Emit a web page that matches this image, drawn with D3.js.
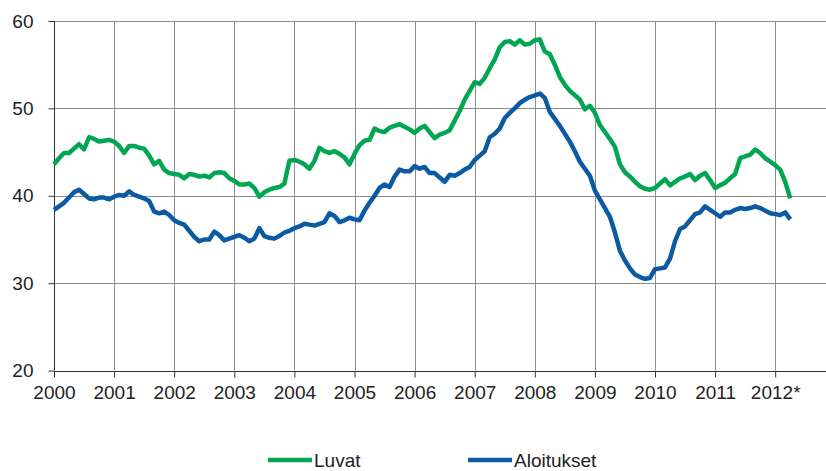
<!DOCTYPE html>
<html>
<head>
<meta charset="utf-8">
<script src="https://cdn.jsdelivr.net/npm/d3@7"></script>
<style>
  html, body { margin: 0; padding: 0; background: #fff; }
  svg { display: block; }
  text { font-family: "Liberation Sans", Arial, sans-serif; fill: #222; }
</style>
</head>
<body>
<svg id="chart" width="826" height="471"></svg>
<script>
// Monthly series, Jan 2000 – Apr 2012
const yearLabels = ["2000","2001","2002","2003","2004","2005","2006","2007","2008","2009","2010","2011","2012*"];
const yTicks = [20, 30, 40, 50, 60];
const seriesNames = ["Luvat", "Aloitukset"];

const luvat = [
  43.6, 44.3, 44.9, 44.9, 45.4, 45.9, 45.3, 46.7, 46.5, 46.2,
  46.3, 46.4, 46.2, 45.7, 44.9, 45.7, 45.7, 45.5, 45.4, 44.6,
  43.6, 44.0, 43.0, 42.6, 42.5, 42.4, 42.0, 42.5, 42.4, 42.2,
  42.3, 42.1, 42.6, 42.7, 42.6, 42.0, 41.7, 41.3, 41.3, 41.4,
  40.9, 39.9, 40.4, 40.7, 40.9, 41.0, 41.4, 44.0, 44.1, 43.9,
  43.6, 43.1, 44.0, 45.5, 45.1, 44.9, 45.1, 44.8, 44.4, 43.6,
  44.8, 45.8, 46.3, 46.4, 47.7, 47.4, 47.3, 47.8, 48.0, 48.2,
  47.9, 47.6, 47.2, 47.7, 48.0, 47.3, 46.6, 47.0, 47.2, 47.5,
  48.6, 49.7, 51.0, 52.0, 53.0, 52.8, 53.5, 54.6, 55.6, 57.0,
  57.6, 57.7, 57.3, 57.8, 57.3, 57.4, 57.8, 57.9, 56.5, 56.2,
  55.0, 53.6, 52.7, 52.0, 51.5, 51.0, 49.9, 50.3, 49.5, 48.1,
  47.3, 46.5, 45.6, 43.6, 42.7, 42.2, 41.6, 41.1, 40.8, 40.7,
  40.9, 41.4, 41.9, 41.2, 41.6, 42.0, 42.2, 42.5, 41.8, 42.3,
  42.6, 41.8, 40.9, 41.2, 41.5, 42.0, 42.5, 44.3, 44.5, 44.7,
  45.3, 44.9, 44.3, 43.9, 43.5, 43.0, 41.6, 39.7
];

const aloitukset = [
  38.4, 38.8, 39.2, 39.8, 40.4, 40.7, 40.2, 39.7, 39.6, 39.8,
  39.8, 39.6, 39.9, 40.1, 40.0, 40.5, 40.1, 39.9, 39.7, 39.4,
  38.2, 38.0, 38.2, 37.8, 37.2, 36.9, 36.7, 36.0, 35.3, 34.8,
  35.0, 35.0, 35.9, 35.5, 34.9, 35.1, 35.3, 35.5, 35.2, 34.8,
  35.1, 36.3, 35.4, 35.2, 35.1, 35.4, 35.8, 36.0, 36.3, 36.5,
  36.8, 36.7, 36.6, 36.8, 37.0, 38.0, 37.7, 37.0, 37.2, 37.5,
  37.3, 37.2, 38.3, 39.2, 40.0, 40.9, 41.3, 41.0, 42.2, 43.0,
  42.8, 42.8, 43.4, 43.1, 43.3, 42.6, 42.6, 42.1, 41.6, 42.4,
  42.3, 42.6, 43.0, 43.3, 44.1, 44.6, 45.1, 46.7, 47.1, 47.7,
  48.9, 49.5, 50.0, 50.6, 51.0, 51.3, 51.5, 51.7, 51.2, 49.6,
  48.8, 48.0, 47.1, 46.2, 45.1, 43.9, 43.1, 42.3, 40.6, 39.6,
  38.6, 37.6, 35.8, 33.7, 32.6, 31.7, 31.0, 30.7, 30.5, 30.6,
  31.6, 31.7, 31.8, 32.8, 34.8, 36.2, 36.5, 37.2, 37.9, 38.1,
  38.8, 38.4, 38.0, 37.6, 38.1, 38.1, 38.4, 38.6, 38.5, 38.6,
  38.8, 38.6, 38.3, 38.0, 37.9, 37.8, 38.1, 37.3
];

const colors = ["#00a651", "#0b5aa3"];

(function () {
const svg = d3.select("#chart");
const mLeft = 54, mRight = 826, mTop = 21, mBottom = 370.6;
const monthPx = 60.1 / 12;
const x = d3.scaleLinear().domain([0, (mRight - mLeft) / monthPx]).range([mLeft, mRight]);
const y = d3.scaleLinear().domain([20, 60]).range([mBottom, mTop]);

const yearTickVals = yearLabels.map((d, i) => i * 12);

// gridlines
const grid = svg.append("g");
grid.selectAll("line.h").data(yTicks.filter(v => v > 20)).enter().append("line")
  .attr("x1", mLeft).attr("x2", mRight)
  .attr("y1", d => Math.round(y(d)) + 0.5).attr("y2", d => Math.round(y(d)) + 0.5)
  .attr("stroke", "#8c8c8c").attr("stroke-width", 1);
grid.selectAll("line.v").data(yearTickVals.slice(1)).enter().append("line")
  .attr("x1", d => Math.round(x(d)) + 0.5).attr("x2", d => Math.round(x(d)) + 0.5)
  .attr("y1", mTop).attr("y2", mBottom)
  .attr("stroke", "#8c8c8c").attr("stroke-width", 1);

// axes
const yAxis = d3.axisLeft(y).tickValues(yTicks).tickSize(6).tickPadding(6).tickFormat(d3.format("d"));
const gy = svg.append("g").attr("transform", `translate(${mLeft + 0.5},0)`).call(yAxis);
gy.select(".domain").attr("stroke", "#333").attr("d", `M0,${y(60)}V${y(20)}`);
gy.selectAll(".tick line").attr("stroke", "#333");
gy.selectAll("text").attr("font-size", 19).attr("fill", "#222")
  .attr("font-family", "'Liberation Sans', Arial, sans-serif").attr("x", -21);

const xAxis = d3.axisBottom(x).tickValues(yearTickVals).tickSize(6).tickPadding(8)
  .tickFormat((d, i) => yearLabels[i]);
const gx = svg.append("g").attr("transform", `translate(0,${Math.round(mBottom) + 0.5})`).call(xAxis);
gx.select(".domain").attr("stroke", "#333").attr("d", `M${mLeft},0H${mRight}`);
gx.selectAll(".tick line").attr("stroke", "#333");
gx.selectAll("text").attr("font-size", 19).attr("fill", "#222")
  .attr("font-family", "'Liberation Sans', Arial, sans-serif");

// lines
const line = d3.line().x((d, i) => x(i)).y(d => y(d));
[luvat, aloitukset].forEach((s, k) => {
  svg.append("path").datum(s)
    .attr("fill", "none").attr("stroke", colors[k]).attr("stroke-width", 4.5)
    .attr("stroke-linejoin", "round").attr("stroke-linecap", "butt")
    .attr("d", line);
});

// legend
const legendX = [268, 468];
seriesNames.forEach((name, k) => {
  const g = svg.append("g").attr("transform", `translate(${legendX[k]},460)`);
  g.append("line").attr("x1", 0).attr("x2", 44).attr("y1", 0).attr("y2", 0)
    .attr("stroke", colors[k]).attr("stroke-width", 4.5);
  g.append("text").attr("x", 46).attr("y", 6.5).attr("font-size", 19).text(name);
});
})();
</script>
</body>
</html>
